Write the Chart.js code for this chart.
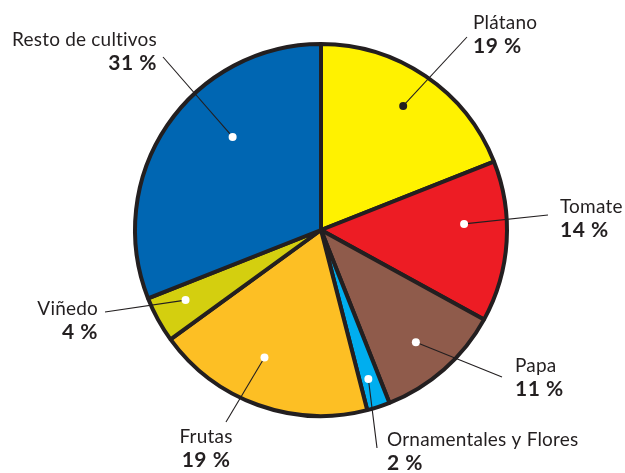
<!DOCTYPE html>
<html>
<head>
<meta charset="utf-8">
<script src="https://cdn.jsdelivr.net/npm/chart.js@4/dist/chart.umd.min.js"></script>
<style>
  html, body { margin: 0; padding: 0; background: #fff; }
  #wrap { width: 625px; height: 473px; }
</style>
</head>
<body>
<div id="wrap"><canvas id="chart" width="625" height="473"></canvas></div>
<script>
  // Datos (porcentajes por cultivo)
  const cultivos = ['Plátano', 'Tomate', 'Papa', 'Ornamentales y Flores', 'Frutas', 'Viñedo', 'Resto de cultivos'];
  const porcentajes = [19, 14, 11, 2, 19, 4, 31];
  const colores = ['#fff200', '#ed1c24', '#8f5b4b', '#00aeef', '#fdbf24', '#d4cf0f', '#0066b2'];

  // Posición de las etiquetas: texto (x, y de la primera línea), alineación,
  // punto de llegada de la línea guía y ubicación del punto dentro del sector
  const etiquetas = [
    { x: 473, y: 29,  align: 'left',   lx: 467, ly: 37,  t: 0.49, r: 0.80, dot: '#231f20' },
    { x: 560, y: 213, align: 'left',   lx: 548, ly: 215, t: 0.38, r: 0.77, dot: '#fff' },
    { x: 515, y: 372, align: 'left',   lx: 502, ly: 377, t: 0.53, r: 0.79, dot: '#fff' },
    { x: 387, y: 446, align: 'left',   lx: 377, ly: 448, t: 0.55, r: 0.84, dot: '#fff' },
    { x: 206, y: 443, align: 'center', lx: 226, ly: 422, t: 0.56, r: 0.75, dot: '#fff' },
    { x: 98,  y: 315, align: 'right',  lx: 105, ly: 312, t: 0.60, r: 0.82, dot: '#fff' },
    { x: 157, y: 46,  align: 'right',  lx: 163, ly: 57,  t: 0.61, r: 0.69, dot: '#fff' }
  ];

  const tinta = '#231f20';

  // Plugin: líneas guía, puntos y textos
  const etiquetasPlugin = {
    id: 'etiquetas',
    afterDraw(chart) {
      const ctx = chart.ctx;
      const arcs = chart.getDatasetMeta(0).data;
      ctx.save();
      arcs.forEach((arc, i) => {
        const e = etiquetas[i];
        const p = arc.getProps(['x', 'y', 'startAngle', 'endAngle', 'outerRadius'], true);
        const ang = p.startAngle + (p.endAngle - p.startAngle) * e.t;
        const px = p.x + Math.cos(ang) * p.outerRadius * e.r;
        const py = p.y + Math.sin(ang) * p.outerRadius * e.r;

        // línea guía
        ctx.strokeStyle = tinta;
        ctx.lineWidth = 1.1;
        ctx.beginPath();
        ctx.moveTo(px, py);
        ctx.lineTo(e.lx, e.ly);
        ctx.stroke();

        // punto
        ctx.fillStyle = e.dot;
        ctx.beginPath();
        ctx.arc(px, py, 4, 0, Math.PI * 2);
        ctx.fill();

        // texto
        ctx.fillStyle = tinta;
        ctx.textAlign = e.align;
        ctx.textBaseline = 'alphabetic';
        ctx.letterSpacing = '0.2px';
        ctx.font = '19px Lato';
        ctx.fillText(cultivos[i], e.x, e.y);
        ctx.letterSpacing = '0.5px';
        ctx.font = 'bold 21px Lato';
        ctx.fillText(porcentajes[i] + ' %', e.x, e.y + 24);
      });
      ctx.restore();
    }
  };

  new Chart(document.getElementById('chart'), {
    type: 'pie',
    data: {
      labels: cultivos,
      datasets: [{
        data: porcentajes,
        backgroundColor: colores,
        borderColor: tinta,
        borderWidth: 4,
        hoverOffset: 0
      }]
    },
    options: {
      responsive: false,
      animation: false,
      layout: { padding: { left: 133, top: 42, right: 116, bottom: 55 } },
      plugins: {
        legend: { display: false },
        tooltip: { enabled: false }
      }
    },
    plugins: [etiquetasPlugin]
  });
</script>
</body>
</html>
